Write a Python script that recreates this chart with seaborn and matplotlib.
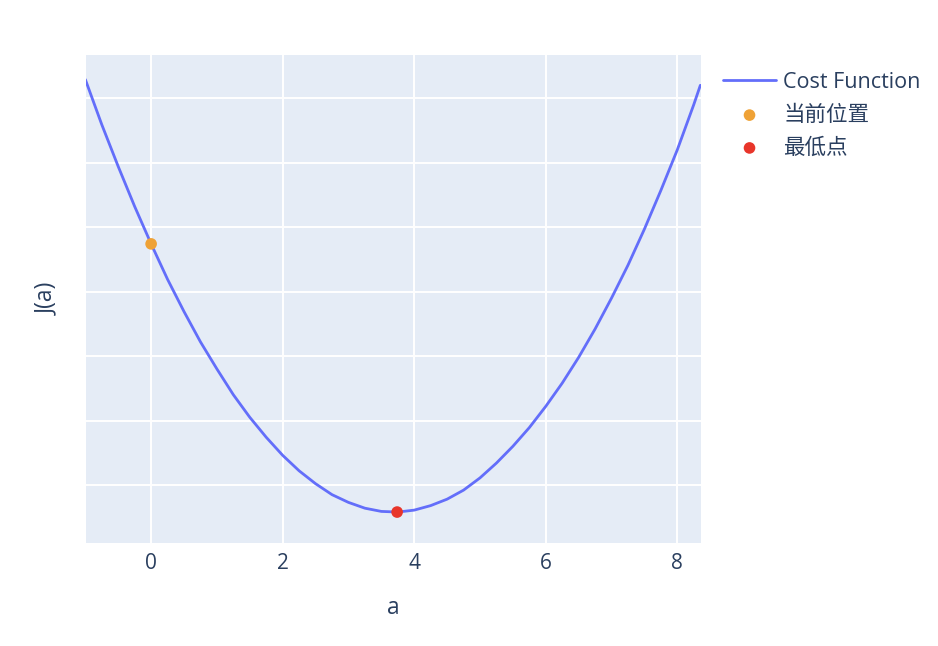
import matplotlib
matplotlib.use("Agg")
import matplotlib.pyplot as plt
import seaborn as sns
import pandas as pd

# Data
a_values = [-1.0, -0.75, -0.5, -0.25, 0.0, 0.25, 0.5, 0.75, 1.0, 1.25, 1.5, 1.75,
            2.0, 2.25, 2.5, 2.75, 3.0, 3.25, 3.5, 3.75, 4.0, 4.25, 4.5, 4.75,
            5.0, 5.25, 5.5, 5.75, 6.0, 6.25, 6.5, 6.75, 7.0, 7.25, 7.5, 7.75,
            8.0, 8.25, 8.35]
cost_values = [72.9, 65.9, 59.4, 53.2, 47.4, 41.9, 36.9, 32.2, 28.0, 24.0, 20.5, 17.4,
               14.6, 12.2, 10.2, 8.5, 7.3, 6.4, 5.9, 5.8, 6.1, 6.8, 7.8, 9.2,
               11.1, 13.4, 16.0, 18.9, 22.2, 25.8, 29.8, 34.2, 39.0, 44.1, 49.7, 55.7,
               62.0, 69.0, 72.0]
current_a = [0.0]
current_J = [47.4]
min_a = [3.74]
min_J = [5.8]
series_names = ["Cost Function", "当前位置", "最低点"]
x_ticks = [0, 2, 4, 6, 8]
y_grid = [10, 20, 30, 40, 50, 60, 70]

sns.set_theme(style="darkgrid")
plt.rcParams["font.family"] = ["Open Sans", "Noto Sans CJK SC", "DejaVu Sans"]

fig = plt.figure(figsize=(9.38, 6.46), dpi=100)
fig.patch.set_facecolor("white")
ax = fig.add_axes([86 / 938, 1 - 543 / 646, 615 / 938, 488 / 646])
ax.set_facecolor("#E5ECF6")

curve = pd.DataFrame({"a": a_values, "J": cost_values})
sns.lineplot(data=curve, x="a", y="J", ax=ax, color="#636EFA", linewidth=2.0,
             label=series_names[0], sort=False)
sns.scatterplot(x=current_a, y=current_J, ax=ax, color="#EFA236", s=70,
                edgecolor="none", label=series_names[1], zorder=5)
sns.scatterplot(x=min_a, y=min_J, ax=ax, color="#E8352A", s=70,
                edgecolor="none", label=series_names[2], zorder=5)

ax.set_xlim(-0.99, 8.36)
ax.set_ylim(1.0, 76.7)
ax.set_xticks(x_ticks)
ax.set_xticklabels([str(t) for t in x_ticks])
ax.set_yticks(y_grid)
ax.set_yticklabels([])
ax.grid(True, color="white", linewidth=1.4)
ax.tick_params(axis="both", length=0, pad=7, labelsize=15, labelcolor="#2a3f5f")
for s in ax.spines.values():
    s.set_visible(False)

ax.set_xlabel("a", fontsize=16.5, color="#2a3f5f", labelpad=16)
ax.set_ylabel("J(a)", fontsize=16.5, color="#2a3f5f", labelpad=12)

leg = ax.legend(loc="upper left", bbox_to_anchor=(1.022, 0.983), borderaxespad=0,
                frameon=False, fontsize=15.5, handlelength=2.45, handletextpad=0.35,
                labelspacing=0.55)
for t in leg.get_texts():
    t.set_color("#2a3f5f")

fig.savefig("out.png", dpi=100, facecolor="white")
